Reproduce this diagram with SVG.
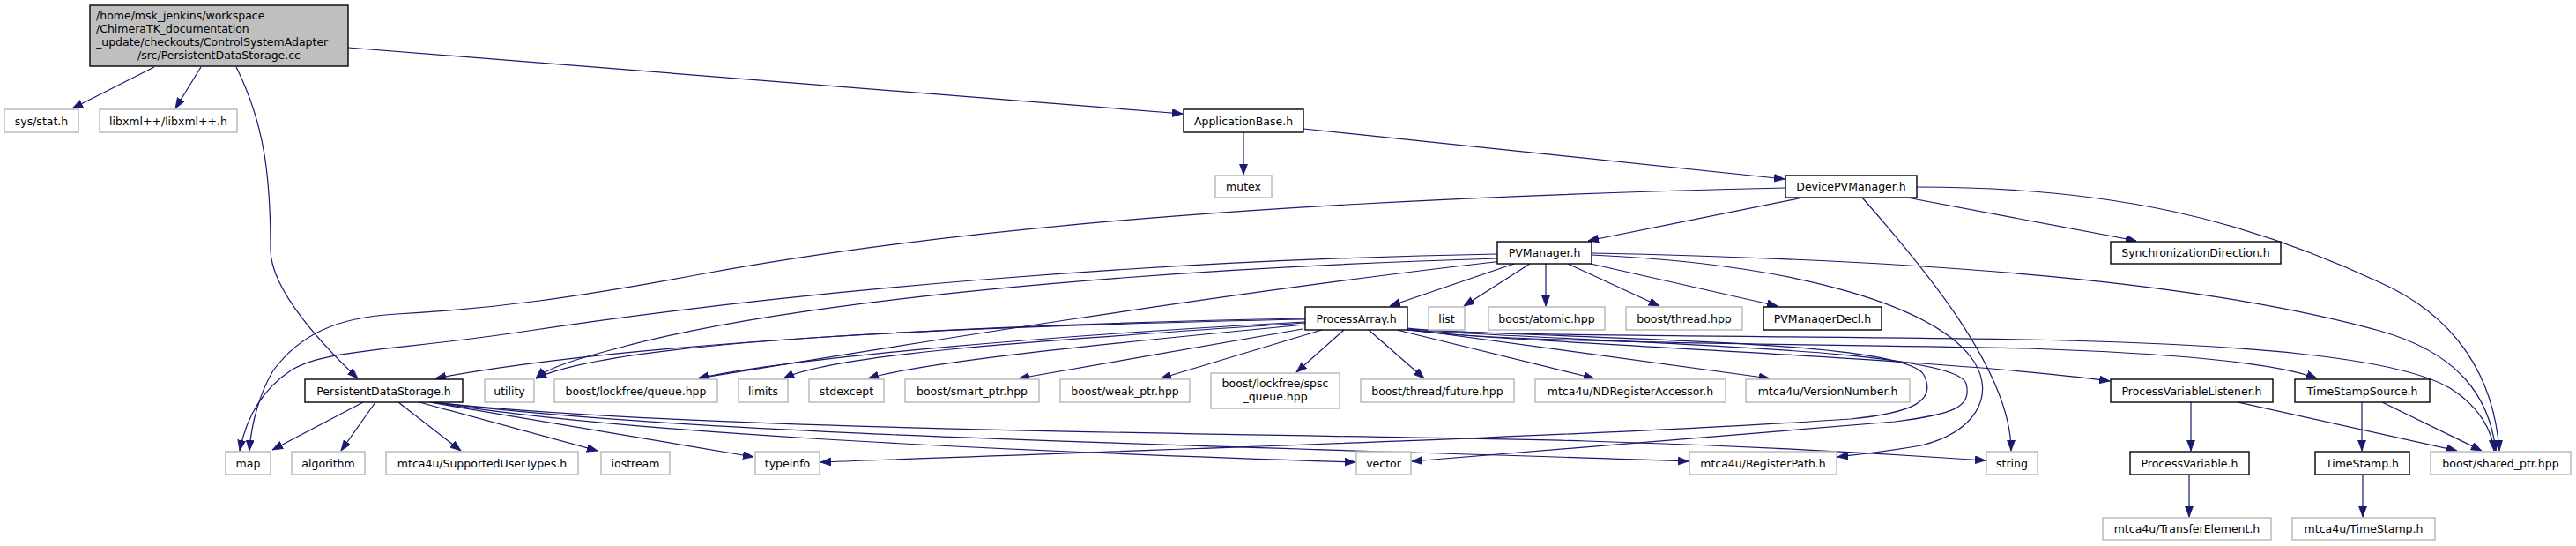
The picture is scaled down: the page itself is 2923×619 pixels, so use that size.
<svg xmlns="http://www.w3.org/2000/svg" width="2923" height="619" viewBox="0 0 2923 619">
<style>
rect{fill:#fff;stroke:#000;stroke-width:1.4}
.g rect{stroke:#bfbfbf;stroke-width:1.6}
#main rect{fill:#bfbfbf}
text{font-family:"DejaVu Sans",Verdana,sans-serif;font-size:12.5px;text-anchor:middle;fill:#000}
#edges path{fill:none;stroke:#191970;stroke-width:1.2;marker-end:url(#a)}
</style>
<defs>
<marker id="a" markerUnits="userSpaceOnUse" markerWidth="13" markerHeight="10" refX="12" refY="4.5" orient="auto">
<path d="M0,0 L12,4.5 L0,9 z" fill="#191970" stroke="#191970" stroke-width="0.8"/>
</marker>
</defs>
<rect x="0" y="0" width="2923" height="619" style="fill:#fff;stroke:none"/>
<g id="edges">
<path d="M175,76 L82,123"/>
<path d="M228,76 L199,123"/>
<path d="M268,76 C300,140 307,200 307,283 C307,330 370,395 406,429"/>
<path d="M395,54 L1342,129"/>
<path d="M1411,150 L1411,198"/>
<path d="M1479,146 L2025,203"/>
<path d="M2026,213 C1500,225 1100,255 800,310 C650,338 560,350 450,356 C380,360 340,380 310,420 C295,445 285,480 283,511"/>
<path d="M1699,288 C1300,295 900,330 600,375 C450,398 370,395 330,420 C300,440 280,470 272,511"/>
<path d="M2046,224 L1802,273"/>
<path d="M2113,224 C2180,300 2282,420 2282,511"/>
<path d="M2164,224 L2424,273"/>
<path d="M2175,212 C2400,212 2550,250 2700,320 C2790,360 2830,430 2836,511"/>
<path d="M1700,293 C1300,305 900,340 700,395 C650,408 620,418 608,429"/>
<path d="M1705,296 C1400,330 1000,395 792,429"/>
<path d="M1718,299 L1577,347"/>
<path d="M1736,299 L1661,347"/>
<path d="M1754,299 L1754,347"/>
<path d="M1779,299 L1883,347"/>
<path d="M1805,299 L2017,347"/>
<path d="M1807,287 C2200,295 2500,320 2700,375 C2790,400 2825,450 2832,511"/>
<path d="M1806,289 C2050,300 2200,350 2240,410 C2265,450 2240,490 2180,505 C2140,512 2110,515 2085,518"/>
<path d="M1481,361 C1100,368 700,390 494,429"/>
<path d="M1481,362 C1100,370 700,385 608,429"/>
<path d="M1481,365 C1200,380 900,405 792,429"/>
<path d="M1481,366 C1200,385 950,400 889,429"/>
<path d="M1481,368 C1250,390 1050,410 985,429"/>
<path d="M1478,373 L1156,429"/>
<path d="M1500,374 L1317,429"/>
<path d="M1525,374 L1471,422"/>
<path d="M1553,374 L1616,429"/>
<path d="M1585,374 L1809,429"/>
<path d="M1597,373 L2008,429"/>
<path d="M1597,374 C1700,388 2200,405 2394,432"/>
<path d="M1597,373 C1680,390 2100,390 2300,395 C2450,400 2580,410 2629,429"/>
<path d="M1597,372 C1680,382 2000,380 2300,385 C2550,390 2720,405 2780,440 C2815,462 2828,490 2830,511"/>
<path d="M1597,373 C1800,385 2160,385 2183,425 C2198,455 2170,468 2100,475 C1800,495 1300,510 931,524"/>
<path d="M1597,374 C1850,390 2220,395 2231,435 C2238,462 2215,470 2150,478 C1900,500 1700,515 1602,523"/>
<path d="M412,456 L309,510"/>
<path d="M426,456 L387,511"/>
<path d="M452,456 L523,511"/>
<path d="M476,456 L678,511"/>
<path d="M487,456 L855,518"/>
<path d="M492,456 C700,490 1100,510 1538,524"/>
<path d="M492,456 C800,495 1400,505 1916,523"/>
<path d="M490,456 C800,490 1500,492 1800,500 C2000,506 2150,515 2253,522"/>
<path d="M2486,456 L2486,511"/>
<path d="M2539,456 L2788,511"/>
<path d="M2680,456 L2680,511"/>
<path d="M2703,456 L2816,511"/>
<path d="M2484,538 L2484,586"/>
<path d="M2681,538 L2681,586"/>
</g>
<g id="main"><rect x="102" y="6" width="293" height="69"/>
<text x="109" y="22" style="text-anchor:start">/home/msk_jenkins/workspace</text>
<text x="109" y="37" style="text-anchor:start">/ChimeraTK_documentation</text>
<text x="109" y="52" style="text-anchor:start">_update/checkouts/ControlSystemAdapter</text>
<text x="248.5" y="67">/src/PersistentDataStorage.cc</text></g>
<g id="sysstat" class="g"><rect x="5" y="124" width="84" height="26"/><text x="47" y="141.5">sys/stat.h</text></g>
<g id="libxml" class="g"><rect x="113" y="124" width="156" height="26"/><text x="191" y="141.5">libxml++/libxml++.h</text></g>
<g id="appbase"><rect x="1343" y="124" width="136" height="26"/><text x="1411" y="141.5">ApplicationBase.h</text></g>
<g id="mutex" class="g"><rect x="1379" y="199" width="64" height="25"/><text x="1411" y="216">mutex</text></g>
<g id="devpv"><rect x="2026" y="199" width="149" height="25"/><text x="2100.5" y="216">DevicePVManager.h</text></g>
<g id="pvman"><rect x="1699" y="274" width="107" height="25"/><text x="1752.5" y="291">PVManager.h</text></g>
<g id="syncdir"><rect x="2395" y="274" width="193" height="25"/><text x="2491.5" y="291">SynchronizationDirection.h</text></g>
<g id="procarr"><rect x="1481" y="348" width="116" height="26"/><text x="1539" y="365.5">ProcessArray.h</text></g>
<g id="list" class="g"><rect x="1621" y="348" width="41" height="26"/><text x="1641.5" y="365.5">list</text></g>
<g id="atomic" class="g"><rect x="1689" y="348" width="132" height="26"/><text x="1755" y="365.5">boost/atomic.hpp</text></g>
<g id="thread" class="g"><rect x="1845" y="348" width="132" height="26"/><text x="1911" y="365.5">boost/thread.hpp</text></g>
<g id="pvmandecl"><rect x="2001" y="348" width="134" height="26"/><text x="2068" y="365.5">PVManagerDecl.h</text></g>
<g id="pds"><rect x="346" y="430" width="179" height="26"/><text x="435.5" y="447.5">PersistentDataStorage.h</text></g>
<g id="utility" class="g"><rect x="550" y="430" width="56" height="26"/><text x="578" y="447.5">utility</text></g>
<g id="queue" class="g"><rect x="629" y="430" width="185" height="26"/><text x="721.5" y="447.5">boost/lockfree/queue.hpp</text></g>
<g id="limits" class="g"><rect x="838" y="430" width="56" height="26"/><text x="866" y="447.5">limits</text></g>
<g id="stdexcept" class="g"><rect x="918" y="430" width="85" height="26"/><text x="960.5" y="447.5">stdexcept</text></g>
<g id="smartptr" class="g"><rect x="1027" y="430" width="152" height="26"/><text x="1103" y="447.5">boost/smart_ptr.hpp</text></g>
<g id="weakptr" class="g"><rect x="1203" y="430" width="147" height="26"/><text x="1276.5" y="447.5">boost/weak_ptr.hpp</text></g>
<g id="spsc" class="g"><rect x="1374" y="423" width="146" height="40"/><text x="1447" y="439">boost/lockfree/spsc</text><text x="1447" y="454">_queue.hpp</text></g>
<g id="future" class="g"><rect x="1544" y="430" width="174" height="26"/><text x="1631" y="447.5">boost/thread/future.hpp</text></g>
<g id="ndreg" class="g"><rect x="1742" y="430" width="216" height="26"/><text x="1850" y="447.5">mtca4u/NDRegisterAccessor.h</text></g>
<g id="version" class="g"><rect x="1981" y="430" width="186" height="26"/><text x="2074" y="447.5">mtca4u/VersionNumber.h</text></g>
<g id="pvl"><rect x="2395" y="430" width="184" height="26"/><text x="2487" y="447.5">ProcessVariableListener.h</text></g>
<g id="tss"><rect x="2604" y="430" width="153" height="26"/><text x="2680.5" y="447.5">TimeStampSource.h</text></g>
<g id="map" class="g"><rect x="256" y="512" width="51" height="26"/><text x="281.5" y="529.5">map</text></g>
<g id="algorithm" class="g"><rect x="331" y="512" width="83" height="26"/><text x="372.5" y="529.5">algorithm</text></g>
<g id="supported" class="g"><rect x="438" y="512" width="218" height="26"/><text x="547" y="529.5">mtca4u/SupportedUserTypes.h</text></g>
<g id="iostream" class="g"><rect x="682" y="512" width="78" height="26"/><text x="721" y="529.5">iostream</text></g>
<g id="typeinfo" class="g"><rect x="857" y="512" width="73" height="26"/><text x="893.5" y="529.5">typeinfo</text></g>
<g id="vector" class="g"><rect x="1539" y="512" width="62" height="26"/><text x="1570" y="529.5">vector</text></g>
<g id="regpath" class="g"><rect x="1917" y="512" width="167" height="26"/><text x="2000.5" y="529.5">mtca4u/RegisterPath.h</text></g>
<g id="string" class="g"><rect x="2254" y="512" width="58" height="26"/><text x="2283" y="529.5">string</text></g>
<g id="pv"><rect x="2417" y="512" width="135" height="26"/><text x="2484.5" y="529.5">ProcessVariable.h</text></g>
<g id="timestamp"><rect x="2627" y="512" width="107" height="26"/><text x="2680.5" y="529.5">TimeStamp.h</text></g>
<g id="sharedptr" class="g"><rect x="2758" y="512" width="159" height="26"/><text x="2837.5" y="529.5">boost/shared_ptr.hpp</text></g>
<g id="transfer" class="g"><rect x="2386" y="587" width="191" height="25"/><text x="2481.5" y="604">mtca4u/TransferElement.h</text></g>
<g id="mtimestamp" class="g"><rect x="2601" y="587" width="162" height="25"/><text x="2682" y="604">mtca4u/TimeStamp.h</text></g>
</svg>
